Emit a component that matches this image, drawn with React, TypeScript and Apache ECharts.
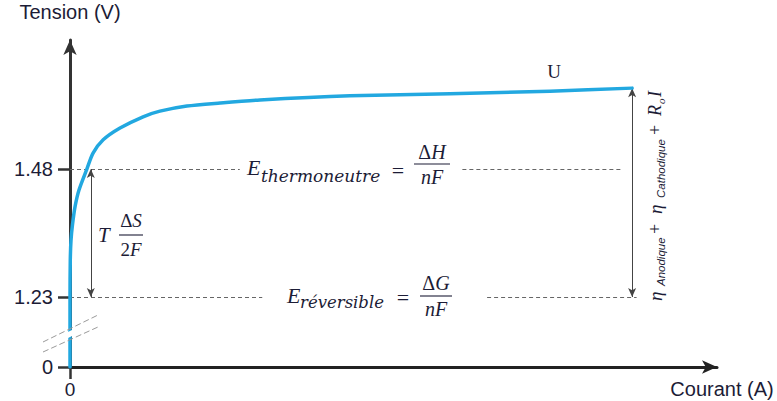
import React, { useEffect, useRef } from 'react';
import * as echarts from 'echarts';

// ---- data ----
const Y_ORIGIN = 1.0933; // displayed as "0" (broken axis)
const Y_TOP = 1.732;
const X_MAX = 115.1;

const currents = [0, 0, 0.05, 0.18, 0.44, 0.89, 1.6, 3.0, 4.1, 5.9, 8.9, 13.0, 16.0, 20.8, 26.7, 33.8, 49.8, 67.6, 85.4, 100];
const voltages = [Y_ORIGIN, 1.23, 1.302, 1.341, 1.371, 1.406, 1.439, 1.48, 1.511, 1.537, 1.56, 1.582, 1.593, 1.603, 1.609, 1.615, 1.623, 1.627, 1.632, 1.638];

const yTickValues = [Y_ORIGIN, 1.23, 1.48];
const yTickLabels = ['0', '1.23', '1.48'];
const xTickValues = [0];
const xTickLabels = ['0'];

const E_THERMO = 1.48;
const E_REV = 1.23;
const thermoSegments = [[0, 30.2], [69.8, 98.4]];
const reversibleSegments = [[0, 34.2], [74.2, 100.8]];
const entropyArrowCurrent = 3.7;
const overpotentialArrowCurrent = 100;

const SANS = '"Liberation Sans", Arial, sans-serif';
const SERIF = '"Liberation Serif", "Times New Roman", serif';
const WIDE = '"DejaVu Serif", serif';
const INK = '#1c1c36';

function txt(text: string, x: number, y: number, size: number, opts: any = {}) {
  return {
    type: 'text',
    x,
    y,
    z: 100,
    style: {
      text,
      fontSize: size,
      fontFamily: opts.family || SERIF,
      fontStyle: opts.style || 'italic',
      fontWeight: opts.weight || 'normal',
      fill: INK,
      align: opts.align || 'left',
      verticalAlign: 'middle',
      rich: opts.rich,
    },
  };
}

function bar(x1: number, x2: number, y: number) {
  return { type: 'line', z: 100, shape: { x1, y1: y, x2, y2: y }, style: { stroke: INK, lineWidth: 1.1 } };
}

function frac(num: string, den: string, cx: number, ny: number, by: number, dy: number, half: number, size: number) {
  const rich = {
    d: { fontStyle: 'normal', fontSize: size, fontFamily: SERIF, fill: INK },
    v: { fontStyle: 'italic', fontSize: size, fontFamily: SERIF, fill: INK },
  };
  const fmt = (s: string) => s.split('').map((c) => (c === 'Δ' || /[0-9]/.test(c) ? `{d|${c}}` : `{v|${c}}`)).join('');
  return [
    txt(fmt(num), cx, ny, size, { align: 'center', rich }),
    bar(cx - half, cx + half, by),
    txt(fmt(den), cx, dy, size, { align: 'center', rich }),
  ];
}

export default function App() {
  const ref = useRef<HTMLDivElement>(null);
  useEffect(() => {
    if (!ref.current) return;
    const chart = echarts.init(ref.current, null, { renderer: 'svg' });
    const curve = currents.map((c, i) => [c, voltages[i]]);
    const seg = (list: number[][], v: number) => list.map(([a, b]) => [{ coord: [a, v] }, { coord: [b, v] }]);

    const rotated = {
      type: 'group',
      x: 655,
      y: 305,
      rotation: Math.PI / 2,
      z: 100,
      children: [
        txt('η', 4, 0, 19, { family: SERIF }),
        txt('Anodique', 19, 6, 11.5, { family: SANS }),
        txt('+', 71, 0, 18, { family: SERIF, style: 'normal' }),
        txt('η', 91, 0, 19, { family: SERIF }),
        txt('Cathodique', 107, 6, 11.5, { family: SANS }),
        txt('+', 170, 0, 18, { family: SERIF, style: 'normal' }),
        txt('R', 189, 0, 18, { family: SERIF }),
        txt('o', 201, 5.5, 11, { family: SERIF }),
        txt('I', 208, 0, 18, { family: SERIF }),
      ],
    };

    chart.setOption({
      animation: false,
      backgroundColor: '#ffffff',
      grid: { left: 70, right: 60, top: 40, bottom: 34, containLabel: false, outerBoundsMode: 'none' },
      xAxis: {
        type: 'value',
        min: 0,
        max: X_MAX,
        name: 'Courant (A)',
        nameLocation: 'end',
        nameGap: 5,
        nameTextStyle: { fontFamily: SANS, fontSize: 20, color: INK, align: 'center', verticalAlign: 'top', padding: [12, 0, 0, 0] },
        axisLine: { show: true, symbol: ['none', 'arrow'], symbolSize: [10, 15], lineStyle: { color: '#222', width: 3 } },
        axisTick: { show: true, customValues: xTickValues, length: 12, lineStyle: { color: '#333', width: 2.5 } },
        axisLabel: {
          show: true,
          customValues: xTickValues,
          margin: 13,
          fontFamily: SANS,
          fontSize: 19,
          color: INK,
          formatter: (v: number) => xTickLabels[xTickValues.indexOf(v)] ?? '',
        },
        splitLine: { show: false },
      },
      yAxis: {
        type: 'value',
        min: Y_ORIGIN,
        max: Y_TOP,
        name: 'Tension (V)',
        nameLocation: 'end',
        nameGap: 18,
        nameTextStyle: { fontFamily: SANS, fontSize: 20, color: INK, align: 'center' },
        axisLine: { show: true, symbol: ['none', 'arrow'], symbolSize: [10, 15], lineStyle: { color: '#333', width: 3 } },
        axisTick: { show: true, customValues: yTickValues, length: 12, lineStyle: { color: '#333', width: 2.5 } },
        axisLabel: {
          show: true,
          customValues: yTickValues,
          margin: 17,
          fontFamily: SANS,
          fontSize: 20,
          color: INK,
          formatter: (v: number) => {
            let best = 0;
            yTickValues.forEach((t, i) => {
              if (Math.abs(t - v) < Math.abs(yTickValues[best] - v)) best = i;
            });
            return yTickLabels[best];
          },
        },
        splitLine: { show: false },
      },
      series: [
        {
          type: 'line',
          z: 1,
          data: [],
          markLine: {
            silent: true,
            symbol: 'none',
            label: { show: false },
            lineStyle: { type: [4, 3], color: '#666', width: 1 },
            data: [...seg(thermoSegments, E_THERMO), ...seg(reversibleSegments, E_REV)],
          },
        },
        {
          type: 'line',
          z: 2,
          data: [],
          markLine: {
            silent: true,
            symbol: ['arrow', 'arrow'],
            symbolSize: [6, 9],
            label: { show: false },
            lineStyle: { type: 'solid', color: '#444', width: 1 },
            data: [
              [{ coord: [entropyArrowCurrent, E_THERMO] }, { coord: [entropyArrowCurrent, E_REV] }],
              [{ coord: [overpotentialArrowCurrent, voltages[voltages.length - 1]] }, { coord: [overpotentialArrowCurrent, E_REV] }],
            ],
          },
        },
        {
          type: 'line',
          z: 5,
          data: curve,
          showSymbol: false,
          symbol: 'none',
          smooth: 0.25,
          lineStyle: { color: '#22a8e0', width: 3.5, cap: 'round', join: 'round' },
        },
      ],
      graphic: [
        // axis break marks
        { type: 'polygon', z: 90, shape: { points: [[63, 334.5], [77, 327.5], [77, 333.5], [63, 340.5]] }, style: { fill: '#ffffff' } },
        { type: 'line', z: 91, shape: { x1: 43, y1: 342, x2: 98, y2: 315 }, style: { stroke: '#9a9a9a', lineWidth: 1, lineDash: [6, 3] } },
        { type: 'line', z: 91, shape: { x1: 43, y1: 352, x2: 98, y2: 327 }, style: { stroke: '#9a9a9a', lineWidth: 1, lineDash: [6, 3] } },
        // U label
        txt('U', 554, 71, 19, { family: SERIF, style: 'normal', align: 'center' }),
        // thermoneutral formula
        txt('E', 247, 167.5, 22),
        txt('thermoneutre', 261, 175.5, 17, { family: WIDE }),
        txt('=', 398, 170, 22, { style: 'normal', align: 'center' }),
        ...frac('ΔH', 'nF', 432, 152, 164, 177, 18, 20),
        // reversible formula
        txt('E', 287, 295.5, 22),
        txt('réversible', 300, 302.5, 16.5, { family: WIDE }),
        txt('=', 403, 297, 22, { style: 'normal', align: 'center' }),
        ...frac('ΔG', 'nF', 436, 283, 296, 309, 16, 20),
        // T ΔS / 2F
        txt('T', 98, 234.5, 21),
        ...frac('ΔS', '2F', 131, 220, 235, 249, 12, 19),
        rotated,
      ],
    });
    return () => chart.dispose();
  }, []);
  return <div ref={ref} style={{ position: 'fixed', left: 0, top: 0, width: 777, height: 401 }} />;
}
